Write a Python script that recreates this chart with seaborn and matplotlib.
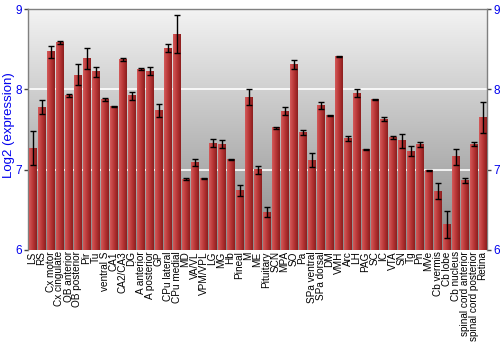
import numpy as np
import pandas as pd
import matplotlib
matplotlib.use("Agg")
import matplotlib.pyplot as plt
import seaborn as sns
from matplotlib.colors import LinearSegmentedColormap

regions = ["LS", "RS", "Cx motor", "Cx cingulate", "OB anterior", "OB posterior", "Pir", "Tu",
           "ventral S", "CA1", "CA2/CA3", "DG", "A anterior", "A posterior", "GP", "CPu lateral",
           "CPu medial", "MD", "VA/VL", "VPM/VPL", "LG", "MG", "Hb", "Pineal", "M", "ME",
           "Pituitary", "SCN", "MPA", "SO", "Pa", "SPa ventral", "SPa dorsal", "DM", "VMH", "Arc",
           "LH", "PAG", "SC", "IC", "VTA", "SN", "Tg", "Pn", "MVe", "Cb vermis", "Cb lobe",
           "Cb nucleus", "spinal cord anterior", "spinal cord posterior", "Retina"]
expression = [7.27, 7.78, 8.47, 8.58, 7.92, 8.18, 8.38, 8.22,
              7.87, 7.79, 8.37, 7.92, 8.25, 8.23, 7.74, 8.51,
              8.69, 6.88, 7.09, 6.89, 7.33, 7.32, 7.13, 6.74, 7.90, 7.00,
              6.47, 7.52, 7.73, 8.31, 7.46, 7.12, 7.80, 7.67, 8.41, 7.39,
              7.95, 7.25, 7.87, 7.63, 7.40, 7.36, 7.23, 7.31, 6.99, 6.73, 6.32,
              7.16, 6.86, 7.32, 7.65]
error = [0.21, 0.09, 0.075, 0.02, 0.02, 0.13, 0.13, 0.06,
         0.02, 0.005, 0.02, 0.05, 0.01, 0.05, 0.08, 0.05,
         0.24, 0.01, 0.04, 0.01, 0.05, 0.05, 0.005, 0.07, 0.10, 0.05,
         0.06, 0.01, 0.05, 0.06, 0.03, 0.09, 0.04, 0.005, 0.01, 0.03,
         0.05, 0.01, 0.005, 0.03, 0.02, 0.09, 0.06, 0.03, 0.01, 0.10, 0.17,
         0.10, 0.03, 0.02, 0.19]

df = pd.DataFrame({"region": regions, "expr": expression, "err": error})

sns.set_theme(style="white")
plt.rcParams["font.family"] = ["Liberation Sans", "DejaVu Sans"]

fig = plt.figure(figsize=(5, 3.5), dpi=100)
ax = fig.add_axes([0.056, 0.286, 0.918, 0.688])

sns.barplot(data=df, x="region", y="expr", color="#b53a3a", width=0.88,
            errorbar=None, ax=ax, zorder=3, linewidth=0)

YMIN, YMAX = 6, 9
n = len(regions)
ax.set_ylim(YMIN, YMAX)
ax.set_xlim(-0.5, n - 0.5)

# background vertical gradient
bg = LinearSegmentedColormap.from_list("bg", ["#8a8a8a", "#f3f3f3"])
grad = np.linspace(0, 1, 256).reshape(-1, 1)
ax.imshow(grad, cmap=bg, origin="lower", aspect="auto",
          extent=[-0.5, n - 0.5, YMIN, YMAX], zorder=0)

# gridlines
for yv in [7, 8]:
    ax.axhline(yv, color="white", lw=1.4, alpha=0.85, zorder=1)

# bar horizontal gradient, kept inside the visible range
barcm = LinearSegmentedColormap.from_list("bar", ["#d45a5a", "#b83636", "#8c1e1e"])
hgrad = np.linspace(0, 1, 64).reshape(1, -1)
for p in ax.patches:
    x0 = p.get_x(); w = p.get_width()
    top = p.get_y() + p.get_height()
    ax.imshow(hgrad, cmap=barcm, aspect="auto",
              extent=[x0, x0 + w, YMIN, top], zorder=3.5)

centers = [p.get_x() + p.get_width() / 2 for p in ax.patches]
heights = [p.get_height() + p.get_y() for p in ax.patches]
ax.errorbar(centers, heights, yerr=df["err"], fmt="none", ecolor="black",
            elinewidth=1, capsize=2, capthick=1, zorder=4)

ax.set_ylim(YMIN, YMAX)
ax.set_xlim(-0.5, n - 0.5)

ax.set_xlabel("")
ax.set_ylabel("Log2 (expression)", color="#0000ee", fontsize=9.5)
ax.yaxis.set_label_coords(-0.029, 0.52)
ax.set_yticks([6, 7, 8, 9])
ax.tick_params(axis="y", colors="#0000ee", labelsize=8.5, length=3, width=1,
               left=True, right=True, labelright=True, direction="out", pad=1.5)
ax.tick_params(axis="y", which="both", color="#444444")
ax.tick_params(axis="x", labelsize=7.2, rotation=90, length=0, pad=1, colors="black")

for s in ["left", "right", "top"]:
    ax.spines[s].set_visible(True)
    ax.spines[s].set_color("#808080")
    ax.spines[s].set_linewidth(1)
ax.spines["bottom"].set_visible(False)

fig.savefig("out.png", dpi=100)
